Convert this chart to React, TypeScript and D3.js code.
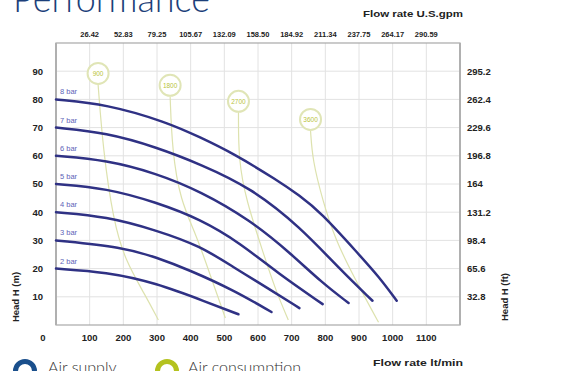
import React from "react";
import * as d3 from "d3";

const flowTicks = [100, 200, 300, 400, 500, 600, 700, 800, 900, 1000, 1100];
const gpmLabels = ["26.42", "52.83", "79.25", "105.67", "132.09", "158.50", "184.92", "211.34", "237.75", "264.17", "290.59"];
const headTicks = [10, 20, 30, 40, 50, 60, 70, 80, 90];
const ftLabels = ["32.8", "65.6", "98.4", "131.2", "164", "196.8", "229.6", "262.4", "295.2"];

const bar8 = [[0, 80], [150, 78.3], [328, 72], [429, 66.5], [524, 61], [658, 51.3], [722, 46], [786, 40], [896, 25.5], [960, 17], [1012, 8.6]];
const bar7 = [[0, 70], [150, 68.2], [300, 63], [429, 57], [577, 48.8], [726, 34.7], [845, 19.5], [940, 8.6]];
const bar6 = [[0, 60], [150, 58.5], [298, 53.8], [429, 47.4], [577, 37.2], [696, 25.5], [790, 15], [869, 7.8]];
const bar5 = [[0, 50], [150, 48.5], [298, 43.5], [429, 37.5], [548, 29], [658, 18.4], [792, 7.4]];
const bar4 = [[0, 40], [150, 38.5], [298, 33.6], [429, 28], [527, 20.5], [630, 13], [723, 6]];
const bar3 = [[0, 30], [199, 27.6], [298, 24], [396, 19.5], [527, 12.4], [640, 4.6]];
const bar2 = [[0, 20], [149, 18.8], [298, 14.9], [446, 8.2], [542, 3.8]];
const pressureCurves = [bar8, bar7, bar6, bar5, bar4, bar3, bar2];
const pressureLabels = ["8 bar", "7 bar", "6 bar", "5 bar", "4 bar", "3 bar", "2 bar"];

const air900 = [[125, 85.3], [140, 62], [170, 37.2], [205, 23], [265, 10.6], [304, 1.8]];
const air1800 = [[339, 81], [345, 62], [369, 44.2], [417, 31.9], [458, 17.7], [503, 2.5]];
const air2700 = [[542, 75.4], [542, 58.4], [565, 44.2], [613, 26.5], [652, 12.4], [690, 1.8]];
const air3600 = [[756, 69], [762, 58.4], [792, 44.2], [830, 30.1], [890, 15.9], [943, 4.2], [958, 1]];
const airCurves = [air900, air1800, air2700, air3600];
const airLabels = ["900", "1800", "2700", "3600"];
const airLabelFlow = [125, 339, 542, 756];
const airLabelHead = [89.2, 85, 79.3, 72.9];

const W = 576;
const H = 371;

export default function App() {
  const x = d3.scaleLinear().domain([0, 1200]).range([56, 460]);
  const y = d3.scaleLinear().domain([0, 100]).range([325, 43]);
  const line = d3
    .line<number[]>()
    .x((d) => x(d[0]))
    .y((d) => y(d[1]))
    .curve(d3.curveBasis);

  const tickFont = "'Liberation Sans', Arial, sans-serif";
  const gridColor = "#e2e2e2";
  const [x0, x1] = x.range();
  const [y0, y1] = y.range();

  return (
    <svg width={W} height={H} style={{ position: "absolute", left: 0, top: 0, background: "#fff" }}>
      {/* Title */}
      <text x={13} y={12} fontFamily="Lato, 'Open Sans', sans-serif" fontWeight={300} fontSize={38} fill="#1c3f7a" textLength={197} lengthAdjust="spacingAndGlyphs">
        Performance
      </text>

      {/* top axis title */}
      <text x={363} y={17} fontFamily={tickFont} fontWeight="bold" fontSize={8.5} fill="#222" textLength={100} lengthAdjust="spacingAndGlyphs">
        Flow rate U.S.gpm
      </text>

      {/* grid */}
      {flowTicks.map((t) => (
        <line key={"vx" + t} x1={x(t)} x2={x(t)} y1={y0} y2={y1} stroke={gridColor} strokeWidth={1} />
      ))}
      {headTicks.map((t) => (
        <line key={"hy" + t} x1={x0} x2={x1} y1={y(t)} y2={y(t)} stroke={gridColor} strokeWidth={1} />
      ))}

      {/* air consumption lines */}
      {airCurves.map((c, i) => (
        <path key={"air" + i} d={line(c as any) || ""} fill="none" stroke="#dde2ae" strokeWidth={1.2} />
      ))}
      {airLabels.map((l, i) => (
        <g key={"al" + i}>
          <circle cx={x(airLabelFlow[i])} cy={y(airLabelHead[i])} r={10.5} fill="#fff" stroke="#e0e5b6" strokeWidth={2} />
          <text x={x(airLabelFlow[i])} y={y(airLabelHead[i]) + 2.3} textAnchor="middle" fontFamily={tickFont} fontSize={6.5} fill="#b9c43c">
            {l}
          </text>
        </g>
      ))}

      {/* border */}
      <rect x={x0} y={y1} width={x1 - x0} height={y0 - y1} fill="none" stroke="#a8a8a8" strokeWidth={1.2} />
      <line x1={x0} x2={x0} y1={y1} y2={y0} stroke="#b0b0b0" strokeWidth={2} />
      <line x1={x1} x2={x1} y1={y1} y2={y0} stroke="#b0b0b0" strokeWidth={2} />

      {/* pressure curves */}
      {pressureCurves.map((c, i) => (
        <g key={"pc" + i}>
          <path d={line(c as any) || ""} fill="none" stroke="#2f3184" strokeWidth={2.5} strokeLinecap="round" />
          <text x={x(0) + 4} y={y(c[0][1]) - 5} fontFamily={tickFont} fontSize={7.5} fill="#6064b8">
            {pressureLabels[i]}
          </text>
        </g>
      ))}

      {/* left axis labels */}
      {headTicks.map((t) => (
        <text key={"ly" + t} x={43} y={y(t) + 3.3} textAnchor="end" fontFamily={tickFont} fontWeight="bold" fontSize={9.5} fill="#222">
          {t}
        </text>
      ))}
      {/* right axis labels */}
      {headTicks.map((t, i) => (
        <text key={"ry" + t} x={467} y={y(t) + 3.3} fontFamily={tickFont} fontWeight="bold" fontSize={9.5} fill="#222">
          {ftLabels[i]}
        </text>
      ))}
      {/* bottom axis labels */}
      <text x={x(0) - 13} y={341} textAnchor="middle" fontFamily={tickFont} fontWeight="bold" fontSize={9.5} fill="#222">
        0
      </text>
      {flowTicks.map((t) => (
        <text key={"bx" + t} x={x(t)} y={341} textAnchor="middle" fontFamily={tickFont} fontWeight="bold" fontSize={9.5} fill="#222">
          {t}
        </text>
      ))}
      {/* top axis labels */}
      {flowTicks.map((t, i) => (
        <text key={"tx" + t} x={x(t)} y={37} textAnchor="middle" fontFamily={tickFont} fontWeight="bold" fontSize={7.5} fill="#222">
          {gpmLabels[i]}
        </text>
      ))}

      {/* axis titles */}
      <text transform="translate(19,297) rotate(-90)" textAnchor="middle" fontFamily={tickFont} fontWeight="bold" fontSize={9.5} fill="#222">
        Head H (m)
      </text>
      <text transform="translate(508,297) rotate(-90)" textAnchor="middle" fontFamily={tickFont} fontWeight="bold" fontSize={9.5} fill="#222">
        Head H (ft)
      </text>
      <text x={373} y={366} fontFamily={tickFont} fontWeight="bold" fontSize={8.5} fill="#222" textLength={90} lengthAdjust="spacingAndGlyphs">
        Flow rate  lt/min
      </text>

      {/* legend */}
      <circle cx={25} cy={371} r={9.5} fill="none" stroke="#1a4f8c" strokeWidth={5} />
      <text x={48} y={373} fontFamily="Lato, 'Open Sans', sans-serif" fontWeight={300} fontSize={16} fill="#333">
        Air supply
      </text>
      <circle cx={167} cy={371} r={9.5} fill="none" stroke="#b4c21f" strokeWidth={5} />
      <text x={188} y={373} fontFamily="Lato, 'Open Sans', sans-serif" fontWeight={300} fontSize={16} fill="#333">
        Air consumption
      </text>
    </svg>
  );
}
